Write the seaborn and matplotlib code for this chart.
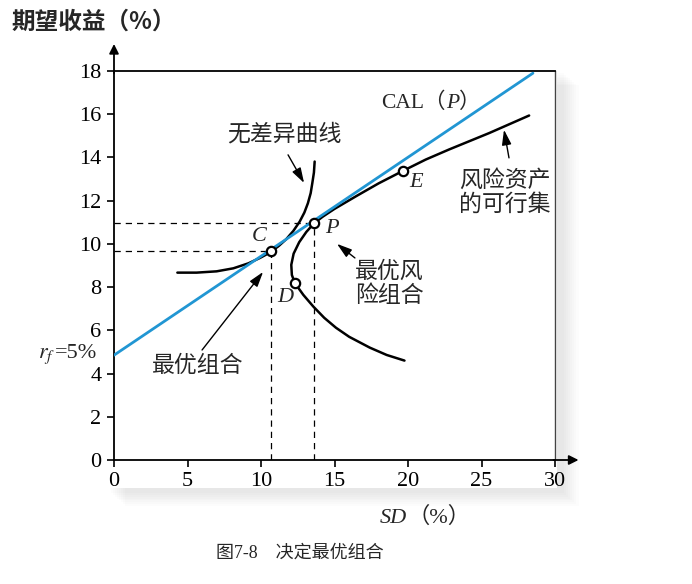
import numpy as np
import pandas as pd
import seaborn as sns
import matplotlib.pyplot as plt
from matplotlib.patches import Rectangle
from matplotlib.offsetbox import TextArea, HPacker, AnnotationBbox

sns.set_style('ticks')
plt.rcParams['font.family'] = ['Liberation Serif', 'Noto Sans CJK SC', 'DejaVu Sans']
plt.rcParams['mathtext.fontset'] = 'stix'

# 资本配置线 CAL(P)
cal_sd = [0.0, 28.5]
cal_ret = [4.85, 17.9]

# 无差异曲线
ind_sd = [4.31, 5.62, 6.98, 8.12, 9.14, 9.93, 10.61, 11.20, 11.72, 12.20, 12.63,
          12.95, 13.19, 13.38, 13.49, 13.60, 13.65]
ind_ret = [8.67, 8.67, 8.73, 8.87, 9.10, 9.35, 9.60, 9.90, 10.22, 10.60, 11.03,
           11.45, 11.88, 12.35, 12.81, 13.30, 13.81]

# 风险资产的可行集
fr_sd = [19.76, 18.55, 17.40, 16.00, 15.10, 14.30, 13.56, 12.88, 12.31, 12.10,
         12.06, 12.22, 12.60, 13.08, 13.60, 14.20, 15.00, 16.48, 18.00, 19.69,
         21.20, 22.80, 25.53, 28.24]
fr_ret = [4.60, 4.86, 5.20, 5.70, 6.12, 6.58, 7.10, 7.64, 8.18, 8.56,
          9.03, 9.55, 10.08, 10.55, 10.95, 11.26, 11.62, 12.21, 12.80, 13.39,
          13.90, 14.37, 15.13, 15.94]

# 标记点 C, P, D, E
pt_names = ['C', 'P', 'D', 'E']
pt_sd = [10.65, 13.60, 12.31, 19.69]
pt_ret = [9.65, 10.95, 8.18, 13.39]

xticks = [0, 5, 10, 15, 20, 25, 30]
yticks = [0, 2, 4, 6, 8, 10, 12, 14, 16, 18]

blue = '#2196d3'
CJK = ['Noto Sans CJK SC', 'DejaVu Sans']


def mixed_text(parent, xy, parts, fontsize, coords='data', align=(0.5, 0.5)):
    kids = []
    for txt, st in parts:
        kids.append(TextArea(txt, textprops=dict(fontsize=fontsize, style=st)))
    box = HPacker(children=kids, pad=0, sep=0, align='baseline')
    ab = AnnotationBbox(box, xy, xycoords=coords, frameon=False,
                        box_alignment=align, pad=0, annotation_clip=False)
    parent.add_artist(ab)


fig = plt.figure(figsize=(6.92, 5.84), dpi=100)

# 卡片阴影
for i in range(8):
    fig.patches.append(Rectangle((0.16 + i * 0.003, 0.155 - i * 0.003), 0.655, 0.72,
                                 transform=fig.transFigure, facecolor='#000000',
                                 alpha=0.012, edgecolor='none', zorder=-10))
fig.patches.append(Rectangle((0.13, 0.165), 0.675, 0.72, transform=fig.transFigure,
                             facecolor='white', edgecolor='none', zorder=-9))

ax = fig.add_axes([114 / 692, 1 - 460 / 584, 441 / 692, (460 - 71) / 584])
ax.set_facecolor('white')
ax.set_xlim(0, 30)
ax.set_ylim(0, 18)

sns.lineplot(x=cal_sd, y=cal_ret, color=blue, lw=2.0, ax=ax, zorder=3)
df_ind = pd.DataFrame({'sd': ind_sd, 'ret': ind_ret})
sns.lineplot(data=df_ind, x='sd', y='ret', sort=False, estimator=None,
             color='black', lw=1.8, ax=ax, zorder=2)
df_fr = pd.DataFrame({'sd': fr_sd, 'ret': fr_ret})
sns.lineplot(data=df_fr, x='sd', y='ret', sort=False, estimator=None,
             color='black', lw=1.8, ax=ax, zorder=2)

# 虚线
c_sd, p_sd = pt_sd[0], pt_sd[1]
c_ret, p_ret = pt_ret[0], pt_ret[1]
dash = dict(ls=(0, (5, 4)), color='black', lw=0.9)
ax.plot([0, p_sd], [p_ret, p_ret], **dash)
ax.plot([0, c_sd], [c_ret, c_ret], **dash)
ax.plot([c_sd, c_sd], [0, c_ret], **dash)
ax.plot([p_sd, p_sd], [0, p_ret], **dash)

ax.scatter(pt_sd, pt_ret, s=45, facecolor='white', edgecolor='black', lw=1.6, zorder=5)

lbl_off = {'C': (-0.8, 0.7), 'P': (1.2, -0.25), 'D': (-0.65, -0.65), 'E': (0.85, -0.55)}
for n, x, y in zip(pt_names, pt_sd, pt_ret):
    dx, dy = lbl_off[n]
    ax.text(x + dx, y + dy, n, style='italic', fontsize=16, ha='center', va='center')

# 文字说明
ax.text(11.56, 15.05, '无差异曲线', fontsize=16.5, ha='center', va='center')
mixed_text(ax, (21.56, 16.53), [('CAL（', 'normal'), ('P', 'italic'), ('）', 'normal')], 15.5)
ax.text(26.6, 12.36, '风险资产\n的可行集', fontsize=16.5, ha='center', va='center',
        linespacing=1.15)
ax.text(16.4, 8.15, '最优风\n险组合', fontsize=16.5, ha='left', va='center', linespacing=1.15)
ax.text(5.71, 4.35, '最优组合', fontsize=16.5, ha='center', va='center')
mixed_text(ax, (-1.15, 4.86), [('$r_f$', 'normal'), ('=5%', 'normal')], 16, align=(1.0, 0.5))

arw = dict(arrowstyle='-|>,head_length=0.7,head_width=0.22', color='black', lw=1.0,
           mutation_scale=13, shrinkA=0, shrinkB=0)
ax.annotate('', xy=(12.93, 12.82), xytext=(11.84, 14.12), arrowprops=arw)
ax.annotate('', xy=(10.14, 8.70), xytext=(5.99, 5.09), arrowprops=arw)
ax.annotate('', xy=(15.17, 10.0), xytext=(16.39, 9.35), arrowprops=arw)
ax.annotate('', xy=(26.53, 15.28), xytext=(26.87, 13.98), arrowprops=arw)

# 坐标轴
ax.set_xticks(xticks)
ax.set_yticks(yticks)
ax.tick_params(direction='out', length=5, width=1.2, labelsize=16, pad=4, colors='black')
for s in ['left', 'bottom', 'top']:
    ax.spines[s].set_color('black')
    ax.spines[s].set_linewidth(1.3)
ax.spines['right'].set_color('#444444')
ax.spines['right'].set_linewidth(1.0)
ax_arw = dict(arrowstyle='-|>', color='black', lw=1.3, mutation_scale=14, shrinkA=0, shrinkB=0)
ax.annotate('', xy=(0, 19.25), xytext=(0, 17.9), annotation_clip=False, arrowprops=ax_arw)
ax.annotate('', xy=(31.6, 0), xytext=(29.9, 0), annotation_clip=False, arrowprops=ax_arw)
ax.set_xlabel('')
ax.set_ylabel('')

mixed_text(fig, (425 / 692, 1 - 517 / 584), [('SD', 'italic'), ('（%）', 'normal')], 16,
           coords='figure fraction')
fig.text(12 / 692, 1 - 22 / 584, '期望收益（%）', fontsize=17, fontweight='bold',
         ha='left', va='center', family=CJK)
fig.text(300 / 692, 1 - 553 / 584, '图7-8\u3000决定最优组合', fontsize=13,
         ha='center', va='center')

fig.savefig('out.png', dpi=100)
